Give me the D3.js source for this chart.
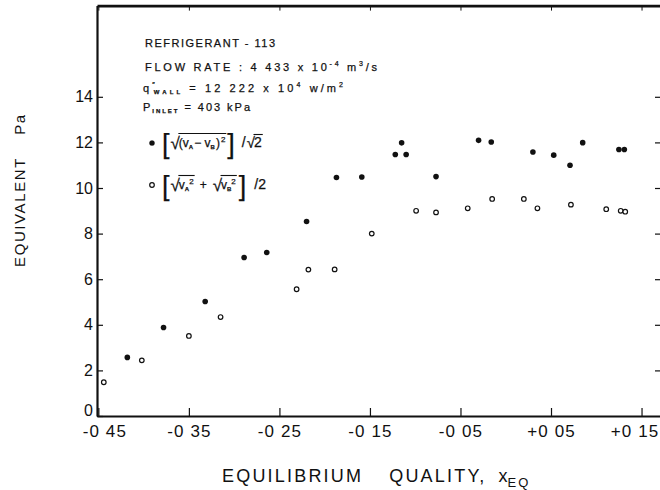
<!DOCTYPE html>
<html><head><meta charset="utf-8">
<script src="https://cdn.jsdelivr.net/npm/d3@7"></script>
<style>body{margin:0;background:#fff}svg{display:block}</style>
</head><body>
<svg id="c" width="660" height="490"></svg>
<script>
// ---- data ----
const xTickValues = [-0.45, -0.35, -0.25, -0.15, -0.05, 0.05, 0.15];
const xTickLabels = ["-0 45", "-0 35", "-0 25", "-0 15", "-0 05", "+0 05", "+0 15"];
const yTickValues = [0, 2, 4, 6, 8, 10, 12, 14];
const rightTickValues = [2, 4, 6, 8, 10, 12, 14];

// filled: [sqrt((vA - vB)^2)] / sqrt(2)
const filledX = [-0.418, -0.378, -0.332, -0.289, -0.264, -0.220, -0.187, -0.159, -0.122, -0.115, -0.110, -0.077, -0.030, -0.016, 0.030, 0.053, 0.071, 0.085, 0.125, 0.131];
const filledY = [2.57, 3.88, 5.02, 6.95, 7.17, 8.53, 10.46, 10.48, 11.47, 11.98, 11.47, 10.50, 12.09, 12.02, 11.58, 11.44, 11.00, 11.99, 11.69, 11.69];
// open: [sqrt(vA^2) + sqrt(vB^2)] / 2
const openX = [-0.444, -0.402, -0.350, -0.315, -0.231, -0.218, -0.189, -0.148, -0.099, -0.077, -0.042, -0.015, 0.020, 0.035, 0.072, 0.111, 0.127, 0.132];
const openY = [1.48, 2.44, 3.51, 4.34, 5.56, 6.42, 6.43, 8.00, 9.00, 8.93, 9.11, 9.52, 9.52, 9.11, 9.27, 9.07, 9.00, 8.96];

// ---- drawing ----
const FONT = "'Liberation Sans', Arial, sans-serif";
const INK = "#111";
const svg = d3.select('#c');
const x = d3.scaleLinear().domain([-0.4515, 0.1715]).range([97, 661]);
const y = d3.scaleLinear().domain([0, 18]).range([416, 5.6]);

// bottom axis
const gx = svg.append('g').attr('transform', `translate(0,${y(0)})`)
  .call(d3.axisBottom(x).tickValues(xTickValues).tickFormat((d, i) => xTickLabels[i])
    .tickSizeInner(-8).tickSizeOuter(0).tickPadding(9));
gx.select('.domain').attr('stroke', INK).attr('stroke-width', 2.2);
gx.selectAll('.tick line').attr('stroke', INK).attr('stroke-width', 1.2);
gx.selectAll('text').attr('font-size', 17).attr('font-family', FONT).attr('fill', INK)
  .attr('letter-spacing', 1.1)
  .attr('dx', (d, i) => i === 0 ? 6 : (i === xTickValues.length - 1 ? -7 : 0));

// left axis
const gy = svg.append('g').attr('transform', `translate(${x.range()[0]},0)`)
  .call(d3.axisLeft(y).tickValues(yTickValues).tickSizeInner(-6).tickSizeOuter(0).tickPadding(4));
gy.select('.domain').attr('stroke', INK).attr('stroke-width', 2.2);
gy.selectAll('.tick line').attr('stroke', INK).attr('stroke-width', 1.2);
gy.selectAll('text').attr('font-size', 16).attr('font-family', FONT).attr('fill', INK)
  .attr('y', d => d === 0 ? -6 : 0);

// top border
const gt = svg.append('g').attr('transform', `translate(0,${y(18)})`)
  .call(d3.axisTop(x).tickValues(xTickValues).tickFormat('').tickSizeInner(-5).tickSizeOuter(0));
gt.select('.domain').attr('stroke', INK).attr('stroke-width', 2.6);
gt.selectAll('.tick line').attr('stroke', INK).attr('stroke-width', 1);

// right border
const gr = svg.append('g').attr('transform', `translate(${x.range()[1]},0)`)
  .call(d3.axisRight(y).tickValues(rightTickValues).tickFormat('').tickSizeInner(-6).tickSizeOuter(0));
gr.select('.domain').attr('stroke', INK).attr('stroke-width', 2);
gr.selectAll('.tick line').attr('stroke', INK).attr('stroke-width', 1.2);

// points
svg.append('g').selectAll('circle').data(d3.zip(openX, openY)).join('circle')
  .attr('cx', d => x(d[0])).attr('cy', d => y(d[1])).attr('r', 2.3)
  .attr('fill', '#fff').attr('stroke', INK).attr('stroke-width', 1.2);
svg.append('g').selectAll('circle').data(d3.zip(filledX, filledY)).join('circle')
  .attr('cx', d => x(d[0])).attr('cy', d => y(d[1])).attr('r', 2.8).attr('fill', INK);

// axis titles
const yl = svg.append('g').attr('font-family', FONT).attr('fill', INK).attr('font-size', 15).attr('letter-spacing', 1.6);
yl.append('text').attr('transform', 'translate(25,212) rotate(-90)').attr('text-anchor', 'middle').text('EQUIVALENT');
yl.append('text').attr('transform', 'translate(25,124) rotate(-90)').attr('text-anchor', 'middle').text('Pa');

const xt = svg.append('text').attr('font-family', FONT).attr('fill', INK).attr('font-size', 18).attr('letter-spacing', 2.2)
  .attr('x', 222).attr('y', 482);
xt.append('tspan').text('EQUILIBRIUM');
xt.append('tspan').attr('dx', 26).text('QUALITY,');
xt.append('tspan').attr('dx', 12).attr('letter-spacing', 0).text('x');
xt.append('tspan').attr('dy', 5).attr('font-size', 13).attr('letter-spacing', 2).text('EQ');

// legend / annotation block
const leg = svg.append('g').attr('font-family', FONT).attr('fill', INK)
  .attr('stroke', INK).attr('stroke-width', 0.25);
leg.append('text').attr('x', 145).attr('y', 47).attr('font-size', 11)
  .attr('textLength', 130).attr('lengthAdjust', 'spacing').text('REFRIGERANT - 113');

const l2 = leg.append('text').attr('x', 145).attr('y', 71).attr('font-size', 11)
  .attr('textLength', 232).attr('lengthAdjust', 'spacing');
l2.append('tspan').text('FLOW  RATE  :  4 433  x  10');
l2.append('tspan').attr('dy', -5).attr('font-size', 7).text('-4');
l2.append('tspan').attr('dy', 5).text('  m');
l2.append('tspan').attr('dy', -5).attr('font-size', 7).text('3');
l2.append('tspan').attr('dy', 5).text('/s');

const l3 = leg.append('text').attr('x', 143).attr('y', 92).attr('font-size', 11)
  .attr('textLength', 200).attr('lengthAdjust', 'spacing');
l3.append('tspan').text('q');
l3.append('tspan').attr('dy', -5).attr('font-size', 7).text('\u2033');
l3.append('tspan').attr('dx', -4).attr('dy', 7).attr('font-size', 6).attr('font-weight', 'bold').text('WALL');
l3.append('tspan').attr('dy', -2).text(' = 12 222  x  10');
l3.append('tspan').attr('dy', -5).attr('font-size', 7).text('4');
l3.append('tspan').attr('dy', 5).text(' w/m');
l3.append('tspan').attr('dy', -5).attr('font-size', 7).text('2');

const l4 = leg.append('text').attr('x', 143).attr('y', 111).attr('font-size', 11)
  .attr('textLength', 107).attr('lengthAdjust', 'spacing');
l4.append('tspan').text('P');
l4.append('tspan').attr('dy', 2).attr('font-size', 6).attr('font-weight', 'bold').text('INLET');
l4.append('tspan').attr('dy', -2).text(' = 403 kPa');

// formula helper: lay out pieces left to right, return extents
function seq(g, x0, base, pieces) {
  let cx = x0; const out = [];
  pieces.forEach(p => {
    const t = g.append('text').attr('x', cx).attr('y', base + (p.dy || 0))
      .attr('font-size', p.fs || 11).attr('font-weight', p.bold ? 'bold' : null).text(p.t);
    const w = t.node().getComputedTextLength();
    out.push({ x0: cx, x1: cx + w });
    cx += w + (p.gap || 0);
  });
  return out;
}
function bar(g, x0, x1, yy) {
  g.append('line').attr('x1', x0).attr('x2', x1).attr('y1', yy).attr('y2', yy)
    .attr('stroke', INK).attr('stroke-width', 1.1);
}

// formula 1
leg.append('circle').attr('cx', 152).attr('cy', 143).attr('r', 2.6).attr('fill', INK);
const b1 = 147;
const f1 = seq(leg, 162, b1, [
  { t: '[', fs: 27, dy: 6, gap: 1 },
  { t: '\u221A', fs: 17, dy: 2, gap: -1 },
  { t: '(v', fs: 12 },
  { t: 'A', fs: 6, dy: 2, bold: true, gap: 1 },
  { t: ' \u2212 v', fs: 12 },
  { t: 'B', fs: 6, dy: 2, bold: true, gap: 1 },
  { t: ')', fs: 12, gap: 1 },
  { t: '2', fs: 8, dy: -5, gap: 2 },
  { t: ']', fs: 27, dy: 6, gap: 7 },
  { t: '/', fs: 14, gap: 1 },
  { t: '\u221A', fs: 15, dy: 1, gap: -1 },
  { t: '2', fs: 14 }
]);
bar(leg, f1[1].x1 - 1.5, f1[7].x1 + 1, b1 - 13.5);
bar(leg, f1[10].x1 - 1.5, f1[11].x1 + 1, b1 - 12.5);

// formula 2
leg.append('circle').attr('cx', 152).attr('cy', 185).attr('r', 2.3)
  .attr('fill', '#fff').attr('stroke', INK).attr('stroke-width', 1.2);
const b2 = 189;
const f2 = seq(leg, 162, b2, [
  { t: '[', fs: 27, dy: 6, gap: 1 },
  { t: '\u221A', fs: 17, dy: 2, gap: -1 },
  { t: 'v', fs: 12 },
  { t: 'A', fs: 6, dy: 2, bold: true },
  { t: '2', fs: 8, dy: -5, gap: 6 },
  { t: '+', fs: 12, gap: 6 },
  { t: '\u221A', fs: 17, dy: 2, gap: -1 },
  { t: 'v', fs: 12 },
  { t: 'B', fs: 6, dy: 2, bold: true },
  { t: '2', fs: 8, dy: -5, gap: 3 },
  { t: ']', fs: 27, dy: 6, gap: 8 },
  { t: '/2', fs: 14, gap: 0 }
]);
bar(leg, f2[1].x1 - 1.5, f2[4].x1 + 1, b2 - 13.5);
bar(leg, f2[6].x1 - 1.5, f2[9].x1 + 1, b2 - 13.5);
</script>
</body></html>
